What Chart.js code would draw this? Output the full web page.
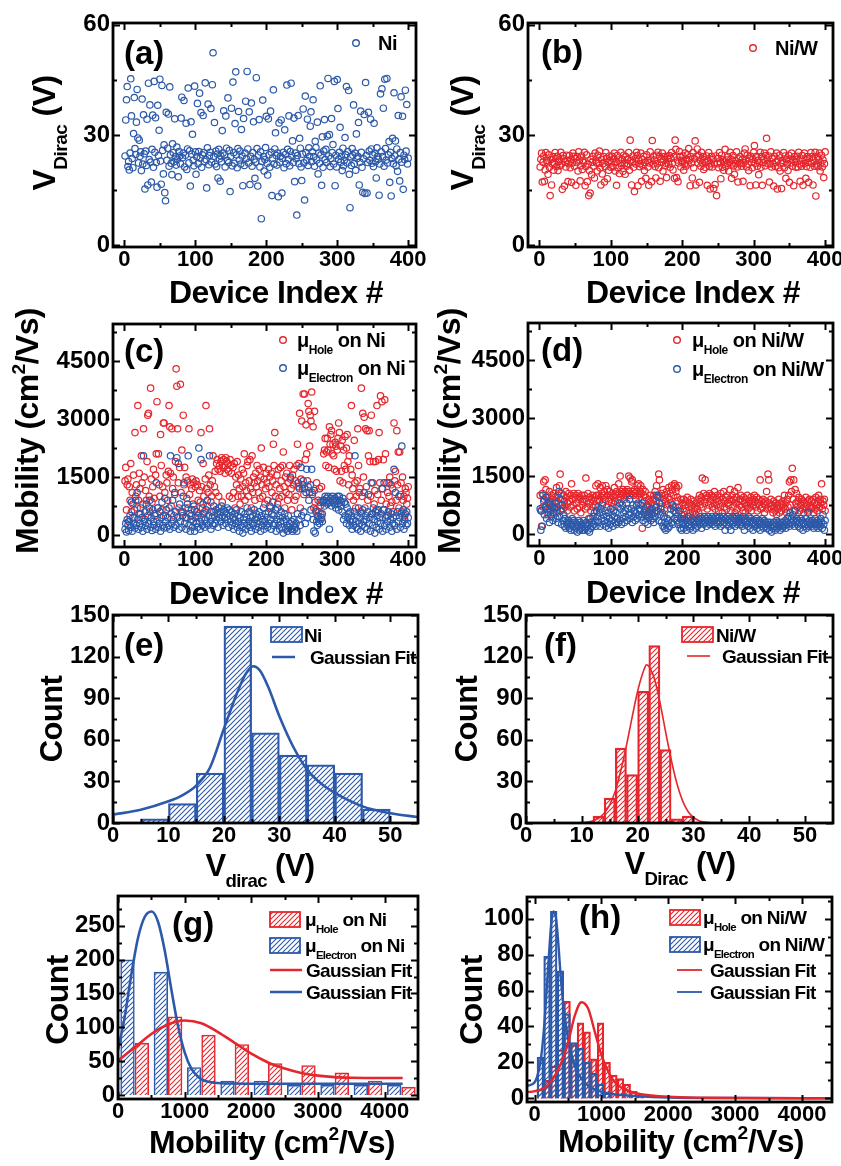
<!DOCTYPE html>
<html>
<head>
<meta charset="utf-8">
<title>Dirac voltage and mobility statistics</title>
<script src="https://cdn.jsdelivr.net/npm/chart.js@4.4.1/dist/chart.umd.min.js"></script>
<style>
  html, body { margin: 0; background: #fff; }
  #wrap { position: relative; width: 841px; height: 1166px; overflow: hidden; }
  #wrap canvas { position: absolute; left: 0; top: 0; }
</style>
</head>
<body>
<div id="wrap"></div>
<script>
const W = 841, H = 1166;
const RED = '#e5262d', BLUE = '#2c59a9';
const FONT = '"Liberation Sans", Arial, Helvetica, sans-serif';

// ---- tick labels ----
const idxTicks = [0, 100, 200, 300, 400];
const vTicks = [0, 30, 60];
const mobTicks = [0, 1500, 3000, 4500];
const vdTicks = [0, 10, 20, 30, 40, 50];
const countTicksEF = [0, 30, 60, 90, 120, 150];
const mobHistTicks = [0, 1000, 2000, 3000, 4000];
const countTicksG = [0, 50, 100, 150, 200, 250];
const countTicksH = [0, 20, 40, 60, 80, 100];

// ---- Dirac voltage per device (V), index 1..400 ----
const vDiracNi = [
  24.3,34.1,39.6,43.2,21.4,22.8,20.5,25.1,45.3,35.2,23.6,21.1,30.4,40.2,26.3,24.7,33.5,42.4,29.2,22.4,
  28.6,24.2,25.4,20.3,39.8,22.1,35.5,24.9,15.3,25.6,21.7,34.3,16.4,44.1,23.3,38.2,22.6,17.2,26.1,35.4,
  21.2,44.6,25.3,34.7,22.5,15.8,38.1,24.4,31.3,45.2,22.9,16.6,43.5,25.8,19.4,27.3,14.3,12.1,36.2,23.1,
  26.4,35.7,21.5,43.1,24.6,22.3,19.2,27.6,25.2,22.7,34.4,24.1,21.8,26.7,23.4,18.6,25.5,24.3,22.2,34.6,
  40.3,23.8,25.1,39.4,21.3,24.5,33.2,20.6,26.2,42.8,22.4,25.7,16.1,33.6,24.8,30.2,23.1,21.6,43.3,25.4,
  19.3,24.1,38.6,22.2,25.5,41.4,23.7,36.1,21.2,24.6,35.3,25.2,22.8,44.2,23.3,15.6,26.5,38.4,21.9,24.4,
  25.3,37.2,22.6,43.7,52.4,24.2,33.4,22.1,25.6,21.4,24.8,18.3,26.1,23.5,17.4,24.3,22.7,31.2,25.1,36.6,
  24.5,21.3,35.2,26.4,23.1,40.1,22.5,25.8,14.6,24.2,37.3,21.6,44.4,25.2,22.3,33.1,47.2,24.6,21.1,26.3,
  36.4,23.2,25.6,22.1,31.5,24.3,16.2,34.5,21.7,25.1,39.2,23.6,47.3,26.2,22.4,36.3,16.5,24.2,38.7,21.5,
  25.2,33.6,23.4,18.2,22.6,45.6,26.3,16.1,24.5,34.2,21.3,25.4,7.2,22.8,39.5,24.1,20.2,23.3,26.6,35.1,
  22.3,19.1,34.4,24.6,21.2,36.5,25.3,13.5,23.7,42.3,22.1,26.2,30.6,24.4,21.8,25.1,13.2,33.3,22.6,24.2,
  34.1,14.2,23.6,25.3,21.1,31.4,24.7,22.2,43.6,26.1,23.4,35.2,21.6,25.5,44.1,24.3,28.4,22.5,34.6,17.3,
  25.1,23.5,8.2,24.4,35.3,22.2,29.1,26.4,21.3,17.6,24.8,37.1,22.4,12.3,40.6,25.2,23.1,34.3,21.7,26.5,
  24.2,32.4,36.3,22.7,25.4,39.6,24.1,21.5,28.3,26.6,23.2,33.5,19.4,25.1,22.3,43.4,24.6,16.3,29.5,21.2,
  25.6,34.2,23.3,26.1,22.5,29.7,45.4,24.3,30.1,21.4,23.6,34.5,25.2,27.4,22.1,44.6,16.2,24.5,21.3,45.1,
  37.2,23.4,25.3,32.1,22.6,24.2,20.3,26.4,21.6,23.1,29.3,24.6,43.2,22.4,25.5,42.1,19.3,10.2,24.1,21.7,
  26.3,24.5,38.2,22.2,25.1,20.4,30.3,23.6,24.2,33.4,16.4,22.6,36.5,25.3,21.2,14.4,23.5,35.6,14.1,44.3,
  24.4,14.2,22.5,36.2,25.6,23.1,34.3,26.2,22.3,24.6,21.4,33.2,25.1,22.7,18.3,26.5,24.2,23.4,13.6,22.1,
  41.2,25.4,42.6,24.1,37.3,21.5,45.2,26.3,23.2,45.4,22.4,24.6,28.2,17.1,25.3,13.4,23.6,29.1,22.2,41.5,
  24.3,28.4,21.6,26.2,20.1,35.3,23.4,17.5,25.2,40.4,22.6,35.1,15.2,24.5,23.3,42.2,25.6,38.3,22.1,23.7
];
const vDiracNiW = [
  21.3,23.4,25.1,17.2,22.6,24.3,17.4,20.5,25.2,23.1,22.4,19.3,24.6,21.2,13.5,23.3,16.4,22.2,24.1,20.4,
  22.3,25.2,23.6,21.4,24.2,20.3,22.7,23.2,21.6,25.3,22.1,15.2,24.4,23.5,16.1,22.6,21.3,24.5,23.1,17.3,
  22.2,24.4,21.1,23.3,17.1,22.4,25.1,24.2,21.5,23.6,16.3,22.5,24.1,20.2,25.4,23.2,17.5,21.6,24.3,20.6,
  23.1,22.5,25.3,16.2,21.4,24.6,17.3,22.1,13.5,20.3,14.2,23.4,19.2,22.6,24.2,21.5,18.3,25.1,23.2,22.4,
  20.2,24.5,22.3,25.6,21.1,16.4,23.3,19.4,22.2,24.1,17.2,21.4,25.2,23.6,18.1,22.5,20.4,24.3,23.1,21.2,
  22.4,24.2,21.3,23.5,25.1,20.2,22.6,16.3,24.4,21.1,23.2,19.5,22.3,25.3,21.6,23.4,20.1,24.5,22.2,19.3,
  24.1,21.5,23.3,22.2,25.2,20.4,28.6,23.1,16.4,22.5,24.3,21.2,14.6,23.5,22.1,25.3,24.4,16.2,23.2,21.4,
  22.2,25.1,17.4,23.3,21.6,24.2,20.3,22.5,18.2,24.6,23.1,21.3,16.3,22.4,25.4,23.2,17.3,28.5,22.1,24.3,
  23.2,21.4,18.3,24.5,22.2,25.3,21.1,24.2,17.4,23.4,22.6,25.1,20.2,23.3,24.1,21.6,22.3,18.4,24.2,23.5,
  22.1,24.4,21.2,23.6,25.2,22.3,20.5,24.1,18.2,28.6,26.1,18.4,23.2,17.3,22.4,25.5,24.2,21.3,23.1,22.6,
  24.3,20.4,22.2,25.1,21.5,23.3,24.6,22.1,26.3,23.2,16.2,24.1,22.4,18.3,25.2,21.1,23.5,28.4,16.4,24.2,
  26.2,22.3,24.4,17.1,23.2,21.5,25.3,22.4,24.1,20.6,23.3,21.2,22.5,24.3,16.3,23.1,25.2,21.4,15.3,22.2,
  24.2,21.3,23.4,15.4,22.1,16.5,24.3,13.5,22.2,23.6,21.1,25.2,22.4,18.1,24.5,21.2,23.3,20.4,22.6,26.1,
  21.4,23.2,22.3,24.1,20.2,22.5,25.3,23.4,18.2,22.1,24.4,21.6,19.3,23.1,22.2,25.4,21.3,17.2,23.5,22.4,
  24.1,22.2,21.5,23.3,17.4,22.4,25.1,26.2,23.2,21.3,24.5,22.1,20.3,23.6,16.2,24.2,22.5,21.1,23.4,25.3,
  27.1,22.3,16.4,24.2,21.5,23.1,19.2,22.4,25.3,21.2,24.1,16.3,22.5,23.3,25.1,21.6,24.4,29.1,23.2,22.2,
  24.3,17.2,22.1,25.4,21.3,23.5,22.2,16.1,24.2,21.4,22.6,25.1,15.3,23.2,21.1,24.5,20.2,22.3,15.4,23.1,
  22.4,25.2,21.1,24.3,18.2,23.4,22.1,20.3,24.5,17.1,23.2,22.4,25.1,21.5,23.3,16.2,24.1,22.6,21.2,23.4,
  24.2,21.3,25.3,22.1,17.4,23.2,21.5,24.4,16.3,22.2,25.1,23.3,18.2,21.4,24.1,22.5,17.1,23.6,21.2,25.2,
  22.3,24.1,16.4,23.2,21.5,25.3,13.4,22.1,24.2,21.4,23.3,25.1,20.2,22.4,24.5,21.3,23.2,18.4,22.2,25.4
];

// ---- carrier mobility per device (cm2/Vs) ----
const muHoleNi = [
  1400,1750,650,1300,1450,350,1250,900,1850,600,1100,800,1550,450,2650,1000,1300,700,3350,900,
  1600,1200,550,2050,1350,800,2750,1500,400,1150,900,1900,3100,3150,1000,600,3800,1450,850,1250,
  1700,950,500,1550,2100,3450,700,2100,1300,1000,2600,1800,650,1250,2900,2900,1100,500,1550,1350,
  900,1650,3350,2800,1600,750,2750,1200,1500,500,1050,1900,4300,3850,2750,1350,700,1750,3900,1100,
  2200,600,3100,1300,1750,450,1500,950,1400,700,2750,1050,1300,500,1200,1450,800,1350,650,1250,
  1400,300,1300,900,550,1150,850,2650,1250,700,1850,1000,600,1450,3350,1200,750,1100,1550,2750,
  1300,850,1000,1400,2050,600,1250,1650,1100,1850,1950,1700,1000,1800,1650,1900,2000,850,1750,1950,
  1800,1600,2000,1900,1700,1850,1650,1000,1950,1800,1600,950,1750,1100,1850,700,1500,1300,1900,1000,
  1550,1200,800,1450,1000,1700,1250,1600,2100,900,1350,1150,1800,1900,1000,1400,1950,1200,700,2050,
  1100,1500,1350,900,1600,1250,1800,1400,1100,1700,950,1500,2250,1300,1000,1750,1450,800,1200,1600,
  1350,900,1700,1250,1500,700,1600,1100,1400,2350,1800,2650,1000,1300,1550,800,1700,950,1200,1750,
  1400,1000,1800,2150,1250,700,1500,1100,1600,900,1350,1050,1800,1450,1200,650,1550,1300,1700,900,
  1400,1000,1800,2350,1250,1850,3150,700,1450,2950,1200,3650,1050,3650,1950,2850,2100,1400,3400,3200,
  2300,3100,2950,3700,1100,2800,700,3200,850,650,1350,500,900,600,1200,750,400,1250,550,900,
  2100,2200,2500,1800,2150,2500,2200,1750,2800,2350,2600,2700,2100,2350,2050,1700,2400,2300,1650,2200,
  2500,2900,2650,1400,2300,1650,2450,1350,2200,1800,2550,1700,2250,2600,1900,1300,2050,1000,1700,3350,
  1550,1200,900,2450,1350,700,1000,1400,2750,1800,1100,1200,600,3800,1000,3150,1500,3050,700,2750,
  1250,2700,900,2050,2700,1900,1000,3100,550,1350,1900,800,1150,1900,650,3350,1050,1950,2650,1350,
  3600,900,3450,1200,1950,650,3500,2100,800,1350,1100,500,1000,1500,750,1300,850,1200,600,2900,
  1400,1650,900,2700,1300,2150,700,2150,1050,1350,600,1500,900,1000,500,1200,1100,800,950,1250
];
const muElecNi = [
  150,300,80,400,250,120,350,500,200,850,100,450,300,650,180,900,250,1100,400,150,
  550,300,700,200,450,100,2050,350,600,250,800,150,500,300,700,900,200,450,120,650,
  350,250,550,150,1350,400,700,200,300,600,100,450,850,250,500,180,950,350,650,200,
  450,250,700,150,2050,550,300,900,400,200,1100,600,250,2000,450,1850,150,800,350,600,
  200,500,1000,1350,300,700,150,450,800,2050,250,550,100,400,650,200,350,750,100,450,
  300,600,200,500,2250,350,150,1950,450,250,800,550,200,400,650,300,900,250,500,2050,
  350,150,600,450,250,750,500,300,650,400,550,200,700,450,600,350,750,500,250,650,
  450,600,300,550,700,400,200,650,500,350,600,250,450,150,550,400,300,650,200,500,
  350,100,450,250,600,200,50,400,300,550,150,450,700,250,350,600,200,450,100,300,
  500,250,650,400,150,550,300,450,200,600,350,100,500,250,400,700,150,350,550,250,
  450,200,600,300,750,400,150,550,850,250,500,300,650,100,400,700,250,500,150,350,
  600,200,450,50,350,550,150,400,250,100,500,200,300,1500,150,350,100,250,400,150,
  200,300,100,550,1350,400,1200,250,1750,500,1300,1400,600,1200,300,1100,1700,450,1250,900,
  1100,1300,650,1700,1050,400,100,1150,50,600,350,250,500,400,300,850,550,450,350,850,
  900,750,1000,850,950,800,1000,900,150,850,950,750,1000,900,850,800,950,700,900,1000,
  800,650,1000,900,750,850,600,950,400,850,500,800,300,700,450,550,250,600,350,500,
  150,400,250,600,2050,350,200,500,150,700,300,450,100,550,250,650,350,1100,200,500,
  400,150,600,1050,300,450,100,1350,550,250,700,400,50,600,200,500,350,650,150,450,
  300,550,1200,100,650,1350,250,450,150,500,350,600,1350,200,400,550,100,300,450,1700,
  250,1100,500,150,600,350,1000,450,200,550,2300,300,650,150,400,550,250,600,300,450
];
const muHoleNiW = [
  1000,600,200,1050,700,1350,900,1400,1150,750,950,500,850,1100,650,800,1000,900,550,1050,
  700,950,850,1200,600,1000,800,1250,1550,750,1050,900,650,1000,850,700,1100,950,600,800,
  1050,850,700,1000,1300,900,750,1050,600,950,1000,800,650,1050,900,700,950,550,1000,850,
  750,900,1000,650,1450,850,700,1050,400,950,800,600,900,1000,700,850,950,750,1250,1000,
  900,1300,1000,850,1200,950,1050,1250,800,1000,1100,900,1250,700,1150,1000,850,1100,900,1000,
  800,1050,700,950,1200,850,1000,1100,400,900,1300,1050,1500,950,1100,1000,1150,1050,900,1100,
  1000,1050,1150,1100,1500,1000,1450,1050,1350,1400,1100,1000,1150,1050,900,1100,1250,1000,1300,1050,
  1100,1250,1050,150,1150,1000,850,1100,950,600,750,500,900,700,1000,650,800,550,900,1000,
  750,1100,850,1250,600,1000,1550,1400,950,700,1050,800,1150,900,650,1000,850,1100,750,950,
  1200,900,1050,800,1250,1150,700,1000,1300,1250,1100,1200,950,850,1250,700,600,900,500,800,
  650,900,500,750,850,600,950,450,700,800,550,900,650,750,400,850,600,700,500,800,
  650,900,550,1000,750,850,950,1450,700,1050,800,1400,900,1000,650,950,750,1050,850,900,
  1000,700,950,800,1100,650,900,750,1000,850,600,950,700,1050,800,550,900,1100,700,850,
  950,650,1000,800,750,900,1150,600,850,1000,700,900,1100,550,800,950,650,1200,850,750,
  900,1000,700,850,600,950,800,550,900,750,1000,650,800,850,700,950,600,800,750,900,
  1000,850,700,950,600,800,900,750,1400,650,850,700,900,800,550,750,850,1100,650,1550,
  1400,800,700,900,650,750,550,850,700,600,800,500,750,650,900,550,700,800,600,750,
  850,700,1000,650,800,550,900,700,1000,1350,750,1400,1100,1700,900,1400,600,1150,800,1050,
  700,850,950,600,800,750,900,650,850,550,800,700,950,650,750,850,600,900,700,650,
  850,700,900,550,800,650,950,750,600,850,1000,700,900,800,1300,650,850,750,900,600
];
const muElecNiW = [
  650,100,600,200,1000,850,500,700,950,400,650,800,550,300,750,600,450,700,350,550,
  650,800,400,550,700,300,1100,450,900,600,250,750,350,500,200,400,150,300,250,200,
  350,150,300,100,250,400,200,350,100,300,150,250,50,200,350,100,300,150,250,100,
  200,350,100,250,150,300,200,100,250,50,400,150,300,200,450,250,550,350,200,600,
  450,700,300,550,200,650,400,750,250,500,350,600,200,450,300,550,150,400,250,650,
  350,500,200,600,450,300,550,250,400,700,300,800,350,650,250,750,400,550,300,600,
  450,800,350,650,500,900,400,550,650,300,750,450,600,350,550,750,400,800,500,650,
  600,750,450,800,350,550,650,300,500,400,700,250,550,450,600,350,500,650,400,300,
  550,450,700,1000,600,950,350,800,500,650,300,550,200,450,150,300,100,250,400,150,
  350,200,500,650,300,750,250,600,400,700,550,350,450,250,600,300,150,400,100,250,
  300,150,400,250,350,100,300,200,450,250,150,350,200,400,100,300,250,350,150,300,
  200,350,400,250,450,300,150,400,350,250,450,300,400,200,350,450,300,250,400,350,
  300,450,250,400,350,200,450,300,400,250,350,450,300,200,400,350,250,450,300,100,
  400,250,350,450,200,300,400,100,350,250,450,300,400,200,350,450,250,300,400,350,
  250,400,300,200,450,350,100,300,400,250,350,200,450,300,150,400,250,350,100,300,
  200,350,250,400,150,300,250,350,100,300,200,400,250,150,350,300,200,250,150,300,
  250,100,300,200,50,250,150,300,200,100,250,350,150,300,200,250,100,300,200,150,
  300,200,250,350,150,300,400,250,450,200,550,300,400,250,500,350,200,600,300,400,
  250,350,200,300,150,400,250,350,100,300,200,250,400,150,300,550,200,350,250,300,
  200,350,250,150,300,400,250,200,350,150,300,250,200,400,300,150,500,250,100,350
];

// ---- histograms (bin centre, count) ----
const eBinCenters = [7.5, 12.5, 17.5, 22.5, 27.5, 32.5, 37.5, 42.5, 47.5];
const eCounts = [3, 14, 36, 142, 65, 49, 42, 36, 10];
const fBinCenters = [13, 15, 17, 19, 21, 23, 25, 27, 29];
const fCounts = [5, 18, 54, 35, 95, 128, 53, 3, 5];
const gBinCenters = [250, 750, 1250, 1750, 2250, 2750, 3250, 3750, 4250];
const gHoleCounts = [77, 116, 89, 75, 47, 44, 33, 21, 12];
const gElecCounts = [200, 182, 41, 21, 21, 15, 15, 15, 15];
const hBinCenters = [85, 185, 285, 385, 485, 585, 685, 785, 885, 985, 1085, 1185, 1285, 1385, 1485, 1585];
const hHoleCounts = [5, 10, 18, 27, 54, 30, 42, 37, 22, 42, 20, 13, 11, 8, 4, 1];
const hElecCounts = [23, 79, 104, 71, 47, 31, 28, 20, 14, 8, 3];

// ---- fitted curves ----
const eFitX = [0, 5, 10, 12.5, 15, 17.5, 20, 22.5, 24, 25.3, 26.5, 28, 30, 32.5, 35, 37.5, 40, 45, 50, 55];
const eFitY = [6, 9.6, 15.7, 20, 27, 40, 68, 95, 108, 113, 110, 98, 77, 55, 38.5, 28.5, 21.7, 12, 7, 4.3];
const fFitX = [10, 11, 12, 13, 14, 15, 16, 17, 18, 19, 20, 21, 21.6, 22, 23, 24, 25, 26, 27, 28, 29, 30, 31, 32, 33];
const fFitY = [0.3, 0.7, 1.6, 3.4, 7, 13, 23, 38, 56, 76, 95, 109, 114, 113, 104, 87, 66, 46, 29, 16.5, 8.5, 4, 1.7, 0.7, 0.3];
const gHoleFitX = [0, 250, 500, 750, 1000, 1250, 1500, 1750, 2000, 2250, 2500, 2750, 3000, 3250, 3500, 3900, 4270];
const gHoleFitY = [51, 70, 90, 104, 110, 106, 93, 77, 61, 48, 39, 32.5, 28.5, 26.3, 25.4, 25.1, 25];
const gElecFitX = [0, 100, 200, 300, 400, 505, 600, 700, 800, 900, 1000, 1100, 1200, 1300, 1450, 1700, 2200, 3000, 4270];
const gElecFitY = [66, 115, 178, 232, 263, 271, 256, 214, 156, 102, 63, 39, 27, 21, 18, 16.8, 16.5, 16.5, 16.5];
const hHoleFitX = [-110, 0, 200, 400, 500, 600, 700, 800, 900, 1000, 1100, 1200, 1350, 1500, 1750, 2000, 2500, 3000, 4450];
const hHoleFitY = [3.5, 4, 7.4, 20, 31, 46, 53.5, 50, 37, 24, 15, 9, 5, 3, 1.6, 0.9, 0.4, 0.2, 0];
const hElecFitX = [-110, 0, 100, 150, 200, 250, 280, 320, 350, 400, 500, 600, 700, 800, 1000, 1250, 1500, 2000, 3000, 4450];
const hElecFitY = [7, 9, 24, 44, 72, 98, 104, 100, 88, 63, 33, 18, 11, 7, 3.7, 2, 1.3, 0.5, 0.2, 0];

const wrap = document.getElementById('wrap');
const byIndex = vals => vals.map((v, i) => ({ x: i + 1, y: v }));
const pairs = (xs, ys) => ys.map((v, i) => ({ x: xs[i], y: v }));

function hatch(color) {
  const c = document.createElement('canvas');
  c.width = 5; c.height = 5;
  const g = c.getContext('2d');
  g.strokeStyle = color;
  g.lineWidth = 1.1;
  g.beginPath();
  g.moveTo(-1, 6); g.lineTo(6, -1);
  g.moveTo(-1, 1); g.lineTo(1, -1);
  g.moveTo(4, 6); g.lineTo(6, 4);
  g.stroke();
  return g.createPattern(c, 'repeat');
}

// text with sub/superscript pieces: [[text, 'sub'|'sup'|undefined], ...]
function drawRich(ctx, parts, x, y, size, align, spacing) {
  ctx.letterSpacing = (spacing || 0) + 'px';
  const pieces = parts.map(([t, k]) => {
    const s = k ? size * 0.6 : size;
    ctx.font = `bold ${s}px ${FONT}`;
    return { t, k, s, w: ctx.measureText(t).width };
  });
  const total = pieces.reduce((a, p) => a + p.w, 0);
  let cx = align === 'center' ? x - total / 2 : x;
  ctx.textAlign = 'left';
  ctx.textBaseline = 'alphabetic';
  for (const p of pieces) {
    ctx.font = `bold ${p.s}px ${FONT}`;
    const dy = p.k === 'sub' ? size * 0.36 : p.k === 'sup' ? -size * 0.42 : 0;
    ctx.fillText(p.t, cx, y + dy);
    cx += p.w;
  }
  ctx.letterSpacing = '0px';
}

function minorTicks(ticks, min, max) {
  const out = [];
  for (let i = 0; i < ticks.length - 1; i++) out.push((ticks[i] + ticks[i + 1]) / 2);
  const step = ticks[1] - ticks[0];
  if (ticks[ticks.length - 1] + step / 2 < max) out.push(ticks[ticks.length - 1] + step / 2);
  if (ticks[0] - step / 2 > min) out.push(ticks[0] - step / 2);
  return out;
}

const decoPlugin = {
  id: 'deco',
  afterDraw(chart, args, o) {
    const { ctx, chartArea: a, scales: { x, y } } = chart;
    ctx.save();
    ctx.strokeStyle = '#000';
    ctx.lineWidth = 2;
    ctx.beginPath();
    const xt = (vals, len) => vals.forEach(v => {
      const p = Math.round(x.getPixelForValue(v)) + 0.5;
      ctx.moveTo(p, a.bottom); ctx.lineTo(p, a.bottom - len);
      ctx.moveTo(p, a.top); ctx.lineTo(p, a.top + len);
    });
    const yt = (vals, len) => vals.forEach(v => {
      const p = Math.round(y.getPixelForValue(v)) + 0.5;
      ctx.moveTo(a.left, p); ctx.lineTo(a.left + len, p);
      ctx.moveTo(a.right, p); ctx.lineTo(a.right - len, p);
    });
    xt(o.xTicks, 7); xt(minorTicks(o.xTicks, x.min, x.max), 4);
    yt(o.yTicks, 7); yt(minorTicks(o.yTicks, y.min, y.max), 4);
    ctx.stroke();
    ctx.lineWidth = 2.8;
    ctx.strokeRect(a.left, a.top, a.right - a.left, a.bottom - a.top);

    ctx.fillStyle = '#000';
    // panel tag
    ctx.font = `bold 33px ${FONT}`;
    ctx.textAlign = 'left';
    ctx.textBaseline = 'alphabetic';
    ctx.fillText(o.tag[0], o.tag[1], o.tag[2]);
    // axis titles
    drawRich(ctx, o.xTitle, o.xTitleAt[0], o.xTitleAt[1], o.titleSize, 'center', -0.6);
    ctx.save();
    ctx.translate(o.yTitleAt[0], o.yTitleAt[1]);
    ctx.rotate(-Math.PI / 2);
    drawRich(ctx, o.yTitle, 0, 0, o.titleSize, 'center', -0.6);
    ctx.restore();
    // legend
    for (const it of o.legend) {
      ctx.strokeStyle = it.color;
      if (it.kind === 'circle') {
        ctx.lineWidth = 1.4;
        ctx.beginPath();
        ctx.arc(it.at[0], it.at[1], 3.3, 0, Math.PI * 2);
        ctx.stroke();
      } else if (it.kind === 'box') {
        const [bx, by, bw, bh] = it.at;
        ctx.fillStyle = hatch(it.color);
        ctx.fillRect(bx, by, bw, bh);
        ctx.lineWidth = 1.8;
        ctx.strokeRect(bx, by, bw, bh);
      } else {
        ctx.lineWidth = it.width || 2.5;
        ctx.beginPath();
        ctx.moveTo(it.at[0], it.at[2]);
        ctx.lineTo(it.at[1], it.at[2]);
        ctx.stroke();
      }
      ctx.fillStyle = '#000';
      drawRich(ctx, it.text, it.tx, it.ty, o.legendSize, 'left', o.legendSize < 20 ? -0.7 : -0.5);
    }
    ctx.restore();
  }
};

function axis(range, ticks, dir, size) {
  return {
    type: 'linear', min: range[0], max: range[1], offset: false,
    afterBuildTicks: s => { s.ticks = ticks.map(v => ({ value: v })); },
    afterFit: s => {
      if (dir === 'x') { s.height = size; s.paddingLeft = 0; s.paddingRight = 0; }
      else { s.width = size; s.paddingTop = 0; s.paddingBottom = 0; }
    },
    grid: { display: false, drawTicks: false },
    border: { display: false },
    ticks: {
      color: '#000', autoSkip: false, maxRotation: 0, minRotation: 0,
      padding: dir === 'x' ? 0 : 3,
      font: { family: FONT, size: dir === 'x' ? 22 : 24, weight: 'bold' },
      callback: v => String(v)
    }
  };
}

function panel(p) {
  const cv = document.createElement('canvas');
  cv.width = W; cv.height = H;
  wrap.appendChild(cv);
  const [l, t, r, b] = p.plot;
  const YW = 100, XH = 40;
  new Chart(cv, {
    type: p.type,
    data: { datasets: p.datasets },
    options: {
      responsive: false, animation: false, events: [],
      layout: { padding: { left: l - YW, top: t, right: W - r, bottom: H - b - XH } },
      scales: {
        x: axis(p.xRange, p.xTicks, 'x', XH),
        y: axis(p.yRange, p.yTicks, 'y', YW)
      },
      plugins: {
        legend: { display: false }, tooltip: { enabled: false },
        deco: {
          xTicks: p.xTicks, yTicks: p.yTicks, tag: p.tag,
          xTitle: p.xTitle, xTitleAt: p.xTitleAt,
          yTitle: p.yTitle, yTitleAt: p.yTitleAt,
          titleSize: p.titleSize || 32, legend: p.legend,
          legendSize: p.type === 'bar' ? 19 : 20
        }
      }
    },
    plugins: [decoPlugin]
  });
}

const circles = (vals, color, order) => ({
  data: byIndex(vals), borderColor: color, backgroundColor: 'rgba(0,0,0,0)',
  pointRadius: 3.2, pointBorderWidth: 1.2, order
});
const bars = (xs, ys, color, order, extra) => Object.assign({
  type: 'bar', data: pairs(xs, ys), backgroundColor: hatch(color), borderColor: color,
  borderWidth: 1.6, barPercentage: 1, categoryPercentage: 1, order
}, extra || {});
const fit = (xs, ys, color, width) => ({
  type: 'line', data: pairs(xs, ys), borderColor: color, borderWidth: width,
  pointRadius: 0, fill: false, cubicInterpolationMode: 'monotone', order: 0
});

const tDevice = [['Device Index #']];
const tVDirac = [['V'], ['Dirac', 'sub'], [' (V)']];
const tMob = [['Mobility (cm'], ['2', 'sup'], ['/Vs)']];
const tCount = [['Count']];

// (a) Dirac voltage, Ni
panel({
  type: 'scatter', plot: [113, 23, 416, 247],
  xRange: [-16, 411], yRange: [-0.5, 60.5], xTicks: idxTicks, yTicks: vTicks,
  datasets: [circles(vDiracNi, BLUE, 0)],
  tag: ['(a)', 124, 64], xTitle: tDevice, xTitleAt: [276, 303],
  yTitle: tVDirac, yTitleAt: [55, 133],
  legend: [{ kind: 'circle', color: BLUE, at: [356, 43], text: [['Ni']], tx: 378, ty: 50 }]
});
// (b) Dirac voltage, Ni/W
panel({
  type: 'scatter', plot: [528, 23, 833, 247],
  xRange: [-16, 411], yRange: [-0.5, 60.5], xTicks: idxTicks, yTicks: vTicks,
  datasets: [circles(vDiracNiW, RED, 0)],
  tag: ['(b)', 541, 63], xTitle: tDevice, xTitleAt: [693, 303],
  yTitle: tVDirac, yTitleAt: [473, 133],
  legend: [{ kind: 'circle', color: RED, at: [753, 48], text: [['Ni/W']], tx: 775, ty: 55 }]
});
// (c) mobility, Ni
panel({
  type: 'scatter', plot: [113, 324, 416, 547],
  xRange: [-16, 411], yRange: [-310, 5460], xTicks: idxTicks, yTicks: mobTicks,
  datasets: [circles(muElecNi, BLUE, 0), circles(muHoleNi, RED, 1)],
  tag: ['(c)', 124, 362], xTitle: tDevice, xTitleAt: [276, 604],
  yTitle: tMob, yTitleAt: [38, 431],
  legend: [
    { kind: 'circle', color: RED, at: [283, 340], text: [['μ'], ['Hole', 'sub'], [' on Ni']], tx: 297, ty: 347 },
    { kind: 'circle', color: BLUE, at: [283, 368], text: [['μ'], ['Electron', 'sub'], [' on Ni']], tx: 297, ty: 375 }
  ]
});
// (d) mobility, Ni/W
panel({
  type: 'scatter', plot: [528, 323, 833, 546],
  xRange: [-16, 411], yRange: [-310, 5460], xTicks: idxTicks, yTicks: mobTicks,
  datasets: [circles(muElecNiW, BLUE, 0), circles(muHoleNiW, RED, 1)],
  tag: ['(d)', 541, 361], xTitle: tDevice, xTitleAt: [693, 603],
  yTitle: tMob, yTitleAt: [460, 431],
  legend: [
    { kind: 'circle', color: RED, at: [677, 340], text: [['μ'], ['Hole', 'sub'], [' on Ni/W']], tx: 692, ty: 347 },
    { kind: 'circle', color: BLUE, at: [677, 369], text: [['μ'], ['Electron', 'sub'], [' on Ni/W']], tx: 692, ty: 376 }
  ]
});
// (e) Dirac voltage histogram, Ni
panel({
  type: 'bar', plot: [113, 615, 418, 823],
  xRange: [0, 55], yRange: [0, 150], xTicks: vdTicks, yTicks: countTicksEF,
  datasets: [fit(eFitX, eFitY, BLUE, 2.6), bars(eBinCenters, eCounts, BLUE, 1)],
  tag: ['(e)', 124, 656], xTitle: [['V'], ['dirac', 'sub'], [' (V)']], xTitleAt: [260, 876], titleSize: 31,
  yTitle: tCount, yTitleAt: [62, 719],
  legend: [
    { kind: 'box', color: BLUE, at: [271, 627, 31, 15], text: [['Ni']], tx: 304, ty: 642 },
    { kind: 'line', color: BLUE, at: [272, 295, 657], text: [['Gaussian Fit']], tx: 310, ty: 664 }
  ]
});
// (f) Dirac voltage histogram, Ni/W
panel({
  type: 'bar', plot: [526, 615, 833, 823],
  xRange: [0, 55], yRange: [0, 150], xTicks: vdTicks, yTicks: countTicksEF,
  datasets: [fit(fFitX, fFitY, RED, 1.6), bars(fBinCenters, fCounts, RED, 1)],
  tag: ['(f)', 544, 656], xTitle: [['V'], ['Dirac', 'sub'], [' (V)']], xTitleAt: [680, 874], titleSize: 31,
  yTitle: tCount, yTitleAt: [477, 719],
  legend: [
    { kind: 'box', color: RED, at: [682, 627, 31, 15], text: [['Ni/W']], tx: 716, ty: 642 },
    { kind: 'line', color: RED, width: 1.6, at: [687, 710, 656], text: [['Gaussian Fit']], tx: 722, ty: 663 }
  ]
});
// (g) mobility histogram, Ni
panel({
  type: 'bar', plot: [118, 896, 418, 1099],
  xRange: [0, 4500], yRange: [-6, 294], xTicks: mobHistTicks, yTicks: countTicksG,
  datasets: [
    fit(gHoleFitX, gHoleFitY, RED, 2.6), fit(gElecFitX, gElecFitY, BLUE, 2.6),
    bars(gBinCenters, gElecCounts, BLUE, 1, { categoryPercentage: 0.86 }),
    bars(gBinCenters, gHoleCounts, RED, 1, { categoryPercentage: 0.86 })
  ],
  tag: ['(g)', 172, 935], xTitle: tMob, xTitleAt: [272, 1153],
  yTitle: tCount, yTitleAt: [68, 1000],
  legend: [
    { kind: 'box', color: RED, at: [270, 912, 30, 15], text: [['μ'], ['Hole', 'sub'], [' on Ni']], tx: 305, ty: 926 },
    { kind: 'box', color: BLUE, at: [270, 938, 30, 15], text: [['μ'], ['Electron', 'sub'], [' on Ni']], tx: 305, ty: 952 },
    { kind: 'line', color: RED, at: [270, 302, 970], text: [['Gaussian Fit']], tx: 306, ty: 977 },
    { kind: 'line', color: BLUE, at: [270, 302, 992], text: [['Gaussian Fit']], tx: 306, ty: 999 }
  ]
});
// (h) mobility histogram, Ni/W
panel({
  type: 'bar', plot: [527, 897, 832, 1102],
  xRange: [-115, 4450], yRange: [-2, 112], xTicks: mobHistTicks, yTicks: countTicksH,
  datasets: [
    fit(hHoleFitX, hHoleFitY, RED, 2.4), fit(hElecFitX, hElecFitY, BLUE, 2.4),
    bars(hBinCenters, hElecCounts, BLUE, 1, { grouped: false }),
    bars(hBinCenters, hHoleCounts, RED, 2, { grouped: false })
  ],
  tag: ['(h)', 579, 928], xTitle: tMob, xTitleAt: [681, 1152],
  yTitle: tCount, yTitleAt: [482, 1000],
  legend: [
    { kind: 'box', color: RED, at: [670, 910, 30, 15], text: [['μ'], ['Hole', 'sub'], [' on Ni/W']], tx: 703, ty: 924 },
    { kind: 'box', color: BLUE, at: [670, 937, 30, 15], text: [['μ'], ['Electron', 'sub'], [' on Ni/W']], tx: 703, ty: 951 },
    { kind: 'line', color: RED, width: 1.8, at: [677, 702, 970], text: [['Gaussian Fit']], tx: 710, ty: 977 },
    { kind: 'line', color: BLUE, width: 1.8, at: [677, 702, 992], text: [['Gaussian Fit']], tx: 710, ty: 999 }
  ]
});
</script>
</body>
</html>
